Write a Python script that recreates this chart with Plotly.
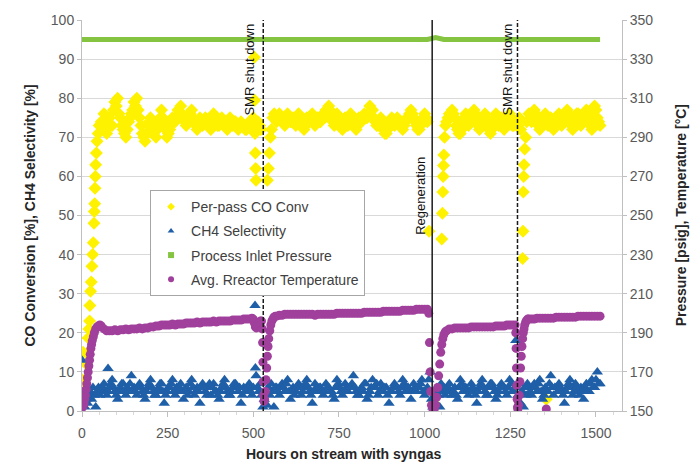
import plotly.graph_objects as go

# ---------------- DATA ----------------
# shared sampling hours of the steady-state stretches
plateau_hours = [
    56, 64, 72, 80, 88, 96, 104, 112, 120, 128, 136, 144, 152, 160, 168, 176, 184, 192, 200, 208,
    216, 224, 232, 240, 248, 256, 264, 272, 280, 288, 296, 304, 312, 320, 328, 336, 344, 352, 360, 368,
    376, 384, 392, 400, 408, 416, 424, 432, 440, 448, 456, 464, 472, 480, 488, 496,
    568, 576, 584, 592, 600, 608, 616, 624, 632, 640, 648, 656, 664, 672, 680, 688, 696, 704, 712, 720,
    728, 736, 744, 752, 760, 768, 776, 784, 792, 800, 808, 816, 824, 832, 840, 848, 856, 864, 872, 880,
    888, 896, 904, 912, 920, 928, 936, 944, 952, 960, 968, 976, 984, 992, 1000, 1008,
    1064, 1072, 1080, 1088, 1096, 1104, 1112, 1120, 1128, 1136, 1144, 1152, 1160, 1168, 1176, 1184,
    1192, 1200, 1208, 1216, 1224, 1232, 1240, 1248, 1256, 1264,
    1304, 1312, 1320, 1328, 1336, 1344, 1352, 1360, 1368, 1376, 1384, 1392, 1400, 1408, 1416, 1424,
    1432, 1440, 1448, 1456, 1464, 1472, 1480, 1488, 1496, 1504, 1512,
]
# second, interleaved set of sampling hours
plateau_hours_b = [
    60, 68, 76, 84, 92, 100, 108, 116, 124, 132, 140, 148, 156, 164, 172, 180, 188, 196, 204, 212,
    220, 228, 236, 244, 252, 260, 268, 276, 284, 292, 300, 308, 316, 324, 332, 340, 348, 356, 364, 372,
    380, 388, 396, 404, 412, 420, 428, 436, 444, 452, 460, 468, 476, 484, 492, 500,
    572, 580, 588, 596, 604, 612, 620, 628, 636, 644, 652, 660, 668, 676, 684, 692, 700, 708, 716, 724,
    732, 740, 748, 756, 764, 772, 780, 788, 796, 804, 812, 820, 828, 836, 844, 852, 860, 868, 876, 884,
    892, 900, 908, 916, 924, 932, 940, 948, 956, 964, 972, 980, 988, 996, 1004,
    1068, 1076, 1084, 1092, 1100, 1108, 1116, 1124, 1132, 1140, 1148, 1156, 1164, 1172, 1180, 1188,
    1196, 1204, 1212, 1220, 1228, 1236, 1244, 1252, 1260,
    1308, 1316, 1324, 1332, 1340, 1348, 1356, 1364, 1372, 1380, 1388, 1396, 1404, 1412, 1420, 1428,
    1436, 1444, 1452, 1460, 1468, 1476, 1484, 1492, 1500, 1508,
]

co_plateau = [
    74, 76, 71, 75, 73, 79, 80, 75, 72, 70, 74, 76, 79, 80, 75, 71, 69, 73, 75, 71,
    70, 74, 77, 73, 70, 72, 75, 74, 77, 78, 75, 73, 76, 77, 74, 72, 75, 73, 75, 74,
    72, 76, 74, 73, 75, 74, 72, 75, 73, 74, 72, 74, 73, 72, 74, 73,
    74, 76, 75, 73, 76, 74, 75, 73, 76, 74, 72, 75, 74, 76, 73, 75, 74, 76, 77, 78,
    75, 73, 76, 74, 72, 75, 73, 76, 74, 72, 75, 74, 76, 75, 78, 77, 74, 73, 75, 72,
    71, 74, 75, 73, 75, 74, 72, 74, 75, 77, 75, 73, 72, 74, 76, 74,
    74, 76, 77, 75, 72, 71, 74, 76, 73, 75, 77, 74, 72, 75, 76, 73,
    71, 74, 76, 73, 75, 72, 74, 76, 73, 74,
    76, 74, 77, 75, 72, 74, 76, 73, 75, 72, 74, 76, 73, 75, 77, 74,
    72, 75, 76, 73, 75, 77, 74, 72, 78, 75, 73,
]
co_plateau_b = [
    73, 74, 75, 73, 77, 78, 76, 73, 71, 72, 75, 77, 78, 77, 73, 70, 71, 74, 73, 72,
    72, 75, 75, 72, 71, 74, 74, 75, 76, 76, 74, 75, 76, 75, 73, 74, 74, 74, 74, 73,
    74, 75, 73, 74, 74, 73, 73, 74, 74, 73, 73, 73, 72, 73, 73, 72,
    75, 75, 74, 75, 75, 74, 74, 75, 75, 73, 73, 74, 75, 75, 74, 74, 75, 75, 77, 77,
    74, 75, 75, 73, 73, 74, 75, 75, 73, 73, 74, 75, 75, 76, 77, 75, 73, 74, 73, 71,
    72, 74, 74, 74, 74, 73, 73, 75, 76, 76, 74, 72, 73, 75, 75,
    75, 76, 76, 73, 71, 72, 75, 75, 74, 76, 76, 73, 73, 75, 75, 72,
    72, 75, 75, 74, 74, 73, 75, 75, 73,
    75, 75, 76, 73, 73, 75, 75, 74, 74, 73, 75, 75, 74, 76, 76, 73,
    73, 76, 75, 74, 76, 76, 73, 75, 77, 74,
]

ch4_plateau = [
    5, 7, 4, 6, 8, 5, 3, 6, 7, 4, 5, 9, 6, 4, 7, 5, 3, 6, 8, 5,
    4, 6, 7, 2, 5, 6, 8, 4, 5, 7, 3, 6, 5, 8, 4, 6, 2, 7, 5, 6,
    4, 7, 5, 3, 6, 8, 5, 4, 6, 7, 5, 2, 6, 5, 7, 4,
    6, 4, 7, 5, 8, 3, 6, 5, 7, 4, 6, 8, 5, 2, 7, 5, 6, 4, 7, 6,
    5, 3, 8, 6, 4, 7, 5, 6, 9, 5, 4, 6, 7, 3, 5, 8, 6, 4, 7, 5,
    6, 2, 5, 7, 6, 4, 8, 5, 6, 3, 7, 5, 6, 8, 4, 6,
    5, 7, 4, 6, 3, 8, 5, 6, 4, 7, 5, 2, 6, 8, 5, 4,
    7, 6, 3, 5, 7, 6, 4, 8, 5, 6,
    6, 4, 7, 5, 8, 3, 6, 5, 9, 4, 6, 7, 5, 2, 6, 8,
    4, 7, 5, 6, 3, 7, 5, 8, 6, 10, 7,
]
ch4_plateau_b = [
    6, 5, 5, 7, 6, 4, 5, 7, 5, 6, 7, 5, 5, 6, 6, 4, 5, 7, 6, 4,
    5, 7, 5, 4, 6, 7, 5, 6, 6, 5, 5, 4, 7, 6, 5, 5, 6, 6, 4, 7,
    6, 5, 4, 5, 7, 6, 4, 5, 7, 6, 6, 4, 5, 6, 5, 6,
    5, 6, 6, 7, 5, 5, 4, 6, 6, 5, 7, 6, 4, 5, 6, 6, 5, 5, 6, 5,
    4, 6, 7, 5, 5, 6, 6, 7, 6, 4, 5, 5, 7, 4, 6, 6, 7, 5, 6, 6,
    4, 5, 6, 6, 5, 6, 7, 6, 5, 5, 6, 6, 7, 5, 5,
    6, 5, 5, 4, 6, 7, 6, 5, 5, 6, 4, 5, 7, 6, 4, 6,
    7, 5, 4, 6, 6, 5, 6, 7, 5,
    5, 6, 6, 7, 5, 4, 5, 7, 6, 6, 5, 6, 4, 5, 7, 6,
    5, 6, 4, 5, 6, 5, 7, 6, 8, 7,
]

temp_plateau = [
    193.5, 192, 191, 191, 191, 191.5, 191, 191.5, 191.5, 192, 191.5, 192, 192, 192, 192.5, 192,
    192.5, 192.5, 193, 193, 193.5, 193.5, 194, 194, 194, 194, 194.5, 194, 194.5, 194.5, 194.5, 195,
    195, 195, 195, 195.5, 195, 195.5, 195.5, 195.5, 195.5, 196, 195.5, 196, 196, 196, 196, 196,
    196.5, 196.5, 196.5, 196.5, 197, 197, 197, 197.5,
    198.5, 199, 199, 199.5, 199.5, 199.5, 199.5, 199.5, 199.5, 199.5, 199.5, 199.5, 199.5, 199.5,
    199, 199.5, 199.5, 199.5, 199.5, 199.5, 199.5, 199.5, 200, 200, 200, 200, 200, 200, 200, 200,
    200, 200, 200.5, 200.5, 200.5, 200.5, 200.5, 200.5, 200.5, 201, 201, 201, 201, 201, 201, 201,
    201.5, 201.5, 201.5, 201.5, 201.5, 202, 202, 202, 202, 202,
    191, 192, 192, 192.5, 192.5, 192.5, 192.5, 192.5, 192.5, 193, 193, 193, 193, 193, 193, 193,
    193, 193, 193.5, 193.5, 193.5, 193.5, 194, 194, 194, 194,
    197, 197, 197, 197.5, 197.5, 197.5, 197.5, 197.5, 197.5, 197.5, 198, 198, 198, 198, 198, 198,
    198, 198, 198.5, 198.5, 198.5, 198.5, 198.5, 198.5, 198.5, 198.5, 198.5,
]

# start-up, shut-down and regeneration transients
co_extra_hours = [0, 3, 6, 12, 15, 18, 20, 22, 23, 25, 27, 29, 31, 33, 35, 36, 37, 38, 39, 40, 42, 44, 47, 50,
                  500, 502, 503, 504, 505, 506, 507, 508, 510, 514, 518, 522,
                  541, 544, 547, 550, 553, 557, 561,
                  1013, 1027, 1050, 1052, 1053, 1054, 1055, 1056, 1058, 1061,
                  1268, 1272, 1276, 1280, 1286, 1287, 1288, 1289, 1290, 1292, 1295, 1298, 1355]
co_extra = [8, 15, 5, 12, 14.7, 18.7, 21, 23, 27, 30.6, 33, 37, 40, 43, 48, 51, 53, 57, 60, 63, 66, 69, 71, 73,
            75, 73, 90.5, 79.5, 71, 66, 62, 59, 72, 74, 73, 72,
            59, 62, 66, 70, 72, 75, 76,
            46, 2, 44, 50.6, 56, 60, 62.8, 65.5, 70, 73,
            74, 73, 75, 72, 39, 46, 56, 60, 63, 67, 70, 74, 3]

ch4_extra_hours = [0, 2, 4, 8, 12, 16, 20, 24, 28, 32, 36, 40, 44, 48, 52, 76,
                   505, 506, 508, 512, 516, 520, 524, 528, 532, 536, 540, 544, 548, 552, 556, 560, 564,
                   1012, 1016, 1020, 1024, 1028, 1032, 1036, 1040, 1044, 1048, 1052, 1056, 1060,
                   1266, 1268, 1272, 1276, 1280, 1284, 1288, 1292, 1296, 1300]
ch4_extra = [13, 2, 5, 1, 3, 2, 4, 5, 3, 6, 4, 1, 5, 6, 4, 10.9,
             27, 11, 9, 6, 5, 7, 4, 1, 3, 5, 1.5, 6, 4, 7, 5, 1, 6,
             8, 10, 3, 1, 5, 2, 6, 4, 1, 7, 5, 6, 4,
             18, 6, 4, 7, 2, 5, 1, 6, 4, 7]

temp_extra_hours = [0, 2, 4, 6, 8, 10, 12, 14, 16, 18, 20, 22, 24, 26, 28, 30, 33, 36, 40, 44, 48, 52,
                    500, 503, 506, 509, 512, 515, 518, 521, 524, 526, 527, 528, 529, 530, 531, 533, 535,
                    537, 539, 541, 543, 545, 548, 551, 554, 557, 560, 564,
                    1012, 1014, 1016, 1018, 1020, 1024, 1028, 1032, 1035, 1038, 1041, 1044, 1047, 1050,
                    1053, 1056, 1060,
                    1266, 1267, 1268, 1269, 1270, 1271, 1272, 1274, 1276, 1278, 1280, 1282, 1284, 1286,
                    1288, 1290, 1292, 1295, 1298, 1301, 1355]
temp_extra = [152, 152, 153, 154, 156, 158, 161, 164, 167, 170, 173, 176, 179, 182, 184, 186, 188, 190, 192, 193, 193.5, 194,
              197, 195, 193, 192.5, 193, 194, 195.5, 196, 196, 192, 185, 175, 165, 158, 155, 156, 160,
              166, 172, 178, 183, 187, 191, 194, 196, 197, 198, 198.5,
              200, 185, 170, 160, 153, 151, 151, 153, 157, 162, 168, 174, 180, 184,
              187, 189, 190.5,
              190, 182, 172, 163, 156, 152, 151, 153, 158, 165, 172, 178, 183, 187,
              190, 192, 194, 195.5, 196.5, 197, 151]

pressure_hours = [0, 24, 48, 72, 96, 120, 144, 168, 192, 216, 240, 264, 288, 312, 336, 360, 384, 408, 432, 456,
                  480, 504, 528, 552, 576, 600, 624, 648, 672, 696, 720, 744, 768, 792, 816, 840, 864, 888, 912,
                  936, 960, 984, 1008, 1032, 1056, 1080, 1104, 1128, 1152, 1176, 1200, 1224, 1248, 1272, 1296,
                  1320, 1344, 1368, 1392, 1416, 1440, 1464, 1488, 1512]
pressure = [340, 340, 340, 340, 340, 340, 340, 340, 340, 340, 340, 340, 340, 340, 340, 340, 340, 340, 340, 340,
            340, 340, 340, 340, 340, 340, 340, 340, 340, 340, 340, 340, 340, 340, 340, 340, 340, 340, 340,
            340, 340, 340, 340, 341, 340, 340, 340, 340, 340, 340, 340, 340, 340, 340, 340,
            340, 340, 340, 340, 340, 340, 340, 340, 340]

event_hours = [529, 1022, 1271]
event_dash = ["4px,2px", "solid", "4px,2px"]
label_texts = ["SMR shut down", "Regeneration", "SMR shut down"]
label_hours = [490, 989, 1243]
label_levels = [87.3, 55, 87.3]

x_ticks = [0, 250, 500, 750, 1000, 1250, 1500]
y_left_ticks = [0, 10, 20, 30, 40, 50, 60, 70, 80, 90, 100]
y_right_ticks = [150, 170, 190, 210, 230, 250, 270, 290, 310, 330, 350]

# ---------------- FIGURE ----------------
FONT = "Liberation Sans, Arial, sans-serif"
YEL = "#FFF200"
BLUE = "#1F5FA8"
GREEN = "#84C441"
PURPLE = "#A0409C"
TICK = "#595959"

fig = go.Figure()

co_hours = co_extra_hours + plateau_hours + plateau_hours_b
co_vals = co_extra + co_plateau + co_plateau_b
ch4_hours = ch4_extra_hours + plateau_hours + plateau_hours_b
ch4_vals = ch4_extra + ch4_plateau + ch4_plateau_b
t_hours = temp_extra_hours + plateau_hours
t_vals = temp_extra + temp_plateau

fig.add_trace(go.Scatter(x=co_hours, y=co_vals, mode="markers", showlegend=False,
                         marker=dict(symbol="diamond", size=10, color=YEL)))
fig.add_trace(go.Scatter(x=ch4_hours, y=ch4_vals, mode="markers", showlegend=False,
                         marker=dict(symbol="triangle-up", size=10, color=BLUE)))
fig.add_trace(go.Scatter(x=pressure_hours, y=pressure, mode="lines", showlegend=False, yaxis="y2",
                         line=dict(color=GREEN, width=5)))
fig.add_trace(go.Scatter(x=t_hours, y=t_vals, mode="markers", showlegend=False, yaxis="y2",
                         marker=dict(symbol="circle", size=9, color=PURPLE)))

# legend entries
legend_items = [("Per-pass CO Conv", "diamond", YEL),
                ("CH4 Selectivity", "triangle-up", BLUE),
                ("Process Inlet Pressure", "square", GREEN),
                ("Avg. Rreactor Temperature", "circle", PURPLE)]
for i, (name, sym, col) in enumerate(legend_items):
    fig.add_trace(go.Scatter(x=[None], y=[None], mode="markers", name=name, legendgroup=f"g{i}",
                             marker=dict(symbol=sym, size=6, color=col)))

for h, d in zip(event_hours, event_dash):
    fig.add_shape(type="line", xref="x", yref="paper", x0=h, x1=h, y0=0, y1=1,
                  line=dict(color="#1a1a1a", width=1.5, dash=d))

for t, h, v in zip(label_texts, label_hours, label_levels):
    fig.add_annotation(x=h, y=v, xref="x", yref="y", text=t, textangle=-90, showarrow=False,
                       xanchor="center", yanchor="middle",
                       font=dict(family=FONT, size=13, color="#111111"))

# axis titles
fig.add_annotation(x=-0.0963, y=0.5, xref="paper", yref="paper", text="<b>CO Conversion [%], CH4 Selectivity [%]</b>",
                   textangle=-90, showarrow=False, xanchor="center", yanchor="middle",
                   font=dict(family=FONT, size=14, color="#262626"))
fig.add_annotation(x=1.109, y=0.5, xref="paper", yref="paper", text="<b>Pressure [psig], Temperature [°C]</b>",
                   textangle=-90, showarrow=False, xanchor="center", yanchor="middle",
                   font=dict(family=FONT, size=14, color="#262626"))
fig.add_annotation(x=0.485, y=-0.111, xref="paper", yref="paper", text="<b>Hours on stream with syngas</b>",
                   showarrow=False, xanchor="center", yanchor="middle",
                   font=dict(family=FONT, size=14, color="#262626"))

fig.update_layout(
    width=691, height=466,
    margin=dict(l=82, r=69, t=16, b=55),
    paper_bgcolor="white", plot_bgcolor="white",
    font=dict(family=FONT, size=14, color=TICK),
    xaxis=dict(range=[0, 1576], tickvals=x_ticks, showgrid=False, zeroline=False,
               showline=True, linecolor="#bfbfbf", linewidth=1,
               ticks="outside", ticklen=5, tickcolor="#bfbfbf", ticklabelstandoff=4,
               minor=dict(ticks="outside", ticklen=3, dtick=50, tickcolor="#d9d9d9", showgrid=False),
               tickfont=dict(family=FONT, size=14, color=TICK)),
    yaxis=dict(range=[0, 100], tickvals=y_left_ticks, showgrid=True, gridcolor="#d9d9d9", gridwidth=1,
               zeroline=False, showline=True, linecolor="#bfbfbf", linewidth=1,
               ticks="outside", ticklen=4, tickcolor="#bfbfbf",
               tickfont=dict(family=FONT, size=14, color=TICK)),
    yaxis2=dict(range=[150, 350], tickvals=y_right_ticks, overlaying="y", side="right", showgrid=False,
                zeroline=False, showline=True, linecolor="#bfbfbf", linewidth=1,
                ticks="outside", ticklen=4, tickcolor="#bfbfbf",
                tickfont=dict(family=FONT, size=14, color=TICK)),
    legend=dict(x=0.126, y=0.565, xanchor="left", yanchor="top", bgcolor="white",
                bordercolor="#a6a6a6", borderwidth=1, tracegroupgap=3,
                font=dict(family=FONT, size=14, color="#404040"), itemwidth=30),
    showlegend=True,
)

fig.write_html("out.html")
